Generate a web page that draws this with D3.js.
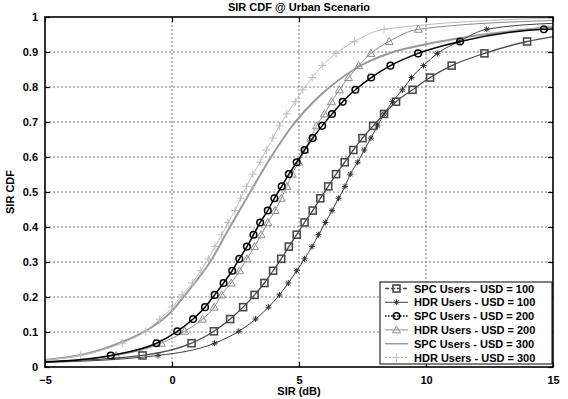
<!DOCTYPE html>
<html><head><meta charset="utf-8">
<script src="https://cdn.jsdelivr.net/npm/d3@7"></script>
<style>
body{margin:0;background:#fff;}
svg{display:block;font-family:"Liberation Sans",Arial,sans-serif;}
</style></head>
<body><svg id="c" width="568" height="399"></svg>
<script>
// CDF levels at which markers are placed
const cdfLevels = [0.033,0.068,0.102,0.137,0.171,0.206,0.240,0.275,0.309,0.344,0.378,0.413,0.447,0.482,0.516,0.551,0.585,0.620,0.654,0.689,0.723,0.758,0.792,0.827,0.861,0.896,0.930,0.965];

// SIR (dB) at each CDF level, per series
const spc100X = [-1.16,0.77,1.65,2.29,2.80,3.25,3.64,3.98,4.30,4.60,4.91,5.22,5.54,5.84,6.15,6.46,6.80,7.14,7.50,7.92,8.35,8.82,9.47,10.16,11.01,12.30,13.98];
const hdr100X = [-0.55,1.68,2.63,3.29,3.80,4.23,4.58,4.91,5.22,5.51,5.77,6.04,6.30,6.56,6.81,7.02,7.31,7.57,7.83,8.09,8.35,8.68,9.07,9.43,9.90,10.45,11.30,12.39];
const spc200X = [-2.41,-0.61,0.21,0.83,1.30,1.68,2.03,2.37,2.65,2.95,3.21,3.47,3.77,4.03,4.32,4.60,4.91,5.22,5.54,5.91,6.30,6.72,7.22,7.84,8.60,9.69,11.34,14.64];
const hdr200X = [-2.20,-0.42,0.50,1.20,1.66,1.95,2.33,2.66,2.95,3.25,3.51,3.77,4.06,4.30,4.52,4.73,4.98,5.23,5.46,5.69,6.00,6.28,6.59,6.95,7.35,7.83,8.55,9.70];
const hdr300X = [-3.60,-1.96,-1.03,-0.48,0.02,0.40,0.80,1.13,1.43,1.69,1.96,2.21,2.48,2.70,2.94,3.18,3.47,3.71,3.97,4.23,4.52,4.85,5.15,5.52,5.91,6.46,7.18,8.35];

// curve end values (CDF at SIR = -5 dB and 15 dB)
const startY = {spc100:0.015, hdr100:0.013, spc200:0.014, hdr200:0.015, hdr300:0.020};
const endY   = {spc100:0.944, hdr100:0.982, spc200:0.966, hdr200:0.990, hdr300:0.997};

// SPC Users - USD = 300 (line only)
const spc300X = [-5,-4,-3,-2,-1,0,0.5,1,1.5,2.2,3.0,3.9,4.8,5.6,6.3,7.4,8.5,10,12,15];
const spc300Y = [0.020,0.029,0.045,0.071,0.105,0.160,0.205,0.250,0.300,0.390,0.490,0.600,0.695,0.760,0.805,0.860,0.895,0.922,0.947,0.972];

const xTicks = [-5,0,5,10,15];
const yTicks = [0,0.1,0.2,0.3,0.4,0.5,0.6,0.7,0.8,0.9,1];
const legendLabels = ["SPC Users - USD = 100","HDR Users - USD = 100","SPC Users - USD = 200","HDR Users - USD = 200","SPC Users - USD = 300","HDR Users - USD = 300"];

const svg = d3.select("#c");
const L=45, R=553, T=17, B=367;
const x = d3.scaleLinear().domain([-5,15]).range([L,R]);
const y = d3.scaleLinear().domain([0,1]).range([B,T]);

// grid
const g = svg.append("g");
g.selectAll("line.gx").data(xTicks.slice(1,-1)).join("line")
  .attr("x1",d=>x(d)).attr("x2",d=>x(d)).attr("y1",T).attr("y2",B)
  .attr("stroke","#777").attr("stroke-width",1).attr("stroke-dasharray","2,2");
g.selectAll("line.gy").data(yTicks.slice(1,-1)).join("line")
  .attr("y1",d=>y(d)).attr("y2",d=>y(d)).attr("x1",L).attr("x2",R)
  .attr("stroke","#777").attr("stroke-width",1).attr("stroke-dasharray","2,2");

function pts(xs, key){
  const p = [[-5,startY[key]]];
  xs.forEach((v,i)=>p.push([v,cdfLevels[i]]));
  p.push([15,endY[key]]);
  return p;
}
const series = [
  {key:"spc100", pts:pts(spc100X,"spc100"), marks:spc100X.map((v,i)=>[v,cdfLevels[i]]), color:"#4a4a4a", w:1.3, m:"square", dash:"4,2"},
  {key:"hdr100", pts:pts(hdr100X,"hdr100"), marks:hdr100X.map((v,i)=>[v,cdfLevels[i]]), color:"#404040", w:1, m:"star", dash:null},
  {key:"spc200", pts:pts(spc200X,"spc200"), marks:spc200X.map((v,i)=>[v,cdfLevels[i]]), color:"#000", w:1.5, m:"circle", dash:"1.5,1.5"},
  {key:"hdr200", pts:pts(hdr200X,"hdr200"), marks:hdr200X.map((v,i)=>[v,cdfLevels[i]]), color:"#8c8c8c", w:1, m:"triangle", dash:null},
  {key:"spc300", pts:spc300X.map((v,i)=>[v,spc300Y[i]]), marks:[], color:"#9a9a9a", w:2, m:null, dash:null},
  {key:"hdr300", pts:pts(hdr300X,"hdr300"), marks:hdr300X.map((v,i)=>[v,cdfLevels[i]]), color:"#bdbdbd", w:1, m:"plus", dash:"2,2"}
];
const line = d3.line().x(d=>x(d[0])).y(d=>y(d[1])).curve(d3.curveMonotoneX);

function marker(sel, type, cx, cy, color){
  if(type==="square") sel.append("rect").attr("x",cx-3.5).attr("y",cy-3.5).attr("width",7).attr("height",7)
      .attr("fill","none").attr("stroke",color).attr("stroke-width",1.6);
  else if(type==="circle") sel.append("circle").attr("cx",cx).attr("cy",cy).attr("r",3.3)
      .attr("fill","none").attr("stroke",color).attr("stroke-width",1.5);
  else if(type==="triangle") sel.append("path").attr("d",`M${cx},${cy-4}L${cx+4},${cy+3}L${cx-4},${cy+3}Z`)
      .attr("fill","none").attr("stroke",color).attr("stroke-width",1);
  else if(type==="plus") sel.append("path").attr("d",`M${cx-4},${cy}H${cx+4}M${cx},${cy-4}V${cy+4}`)
      .attr("stroke",color).attr("stroke-width",1);
  else if(type==="star") sel.append("path").attr("d",`M${cx-3},${cy}H${cx+3}M${cx},${cy-3}V${cy+3}M${cx-2.2},${cy-2.2}L${cx+2.2},${cy+2.2}M${cx-2.2},${cy+2.2}L${cx+2.2},${cy-2.2}`)
      .attr("stroke",color).attr("stroke-width",1);
}

const drawOrder = [4,5,3,0,1,2];
drawOrder.forEach(i=>{
  const s = series[i];
  svg.append("path").datum(s.pts).attr("d",line).attr("fill","none")
     .attr("stroke",s.color).attr("stroke-width",s.w);
  const mg = svg.append("g");
  s.marks.forEach(d=>marker(mg, s.m, x(d[0]), y(d[1]), s.color==="#404040"?"#333":s.color));
});

// axes box
svg.append("rect").attr("x",L).attr("y",T).attr("width",R-L).attr("height",B-T)
  .attr("fill","none").attr("stroke","#000").attr("stroke-width",1.6);

const xa = svg.append("g").attr("transform",`translate(0,${B})`)
  .call(d3.axisBottom(x).tickValues(xTicks).tickSize(-5).tickPadding(9).tickFormat(d3.format("d")));
const ya = svg.append("g").attr("transform",`translate(${L},0)`)
  .call(d3.axisLeft(y).tickValues(yTicks).tickSize(-5).tickPadding(7).tickFormat(d=>d===0?"0":d===1?"1":d3.format(".1f")(d)));
const ya2 = svg.append("g").attr("transform",`translate(${R},0)`)
  .call(d3.axisRight(y).tickValues(yTicks).tickSize(-5).tickFormat(""));
const xa2 = svg.append("g").attr("transform",`translate(0,${T})`)
  .call(d3.axisTop(x).tickValues(xTicks).tickSize(-5).tickFormat(""));
[xa,ya,ya2,xa2].forEach(a=>{
  a.select(".domain").remove();
  a.selectAll(".tick line").attr("stroke","#000").attr("stroke-width",1.2);
  a.selectAll("text").attr("font-family","Liberation Sans, Arial, sans-serif").attr("font-size",11).attr("font-weight","bold").attr("fill","#000");
});

// titles
svg.append("text").attr("x",(L+R)/2).attr("y",11).attr("text-anchor","middle")
  .attr("font-size",11).attr("font-weight","bold").text("SIR CDF @ Urban Scenario");
svg.append("text").attr("x",(L+R)/2).attr("y",395).attr("text-anchor","middle")
  .attr("font-size",11).attr("font-weight","bold").text("SIR (dB)");
svg.append("text").attr("transform",`translate(14,${(T+B)/2}) rotate(-90)`).attr("text-anchor","middle")
  .attr("font-size",11).attr("font-weight","bold").text("SIR CDF");

// legend
const lg = svg.append("g");
lg.append("rect").attr("x",380).attr("y",282).attr("width",172).attr("height",82)
  .attr("fill","#fff").attr("stroke","#000").attr("stroke-width",1);
series.forEach((s,i)=>{
  const cy = 288.5 + i*13.8;
  lg.append("line").attr("x1",385).attr("x2",408).attr("y1",cy).attr("y2",cy)
    .attr("stroke",s.color).attr("stroke-width",Math.min(s.w,1.5)).attr("stroke-dasharray",s.dash);
  if(s.m) marker(lg, s.m, 396.5, cy, s.color);
  lg.append("text").attr("x",414).attr("y",cy+4).attr("font-size",11).attr("font-weight","bold")
    .text(legendLabels[i]);
});
</script></body></html>
